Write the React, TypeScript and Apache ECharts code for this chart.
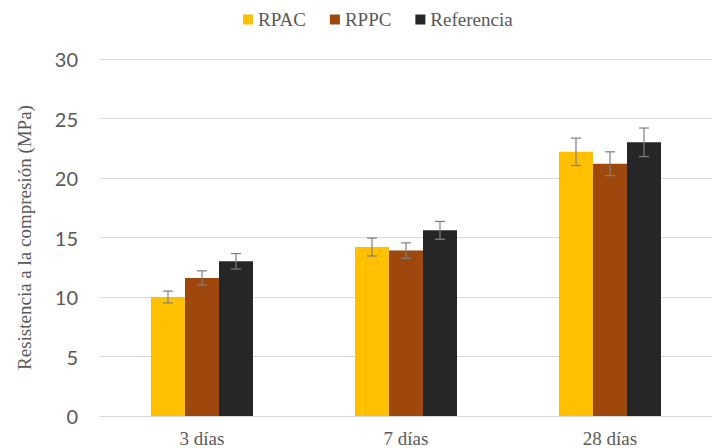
import React, { useEffect, useRef } from "react";
import * as echarts from "echarts";

// Compressive strength by curing age, with standard-deviation error bars
const categories = ["3 días", "7 días", "28 días"];
const seriesNames = ["RPAC", "RPPC", "Referencia"];
const rpac = [10.0, 14.2, 22.2];
const rppc = [11.6, 13.9, 21.2];
const referencia = [13.0, 15.6, 23.0];
const rpacErr = [0.5, 0.75, 1.15];
const rppcErr = [0.6, 0.65, 1.0];
const referenciaErr = [0.65, 0.75, 1.2];
const yMin = 0;
const yMax = 30;
const yStep = 5;

const colors = ["#FFC000", "#9E480E", "#262626"];
const serif = "Liberation Serif";
const sans = "Lato";
const textGray = "#595959";
const gridGray = "#D9D9D9";
const errGray = "#7F7F7F";
const BAR_GAP_RATIO = 0.5;

function errorSeries(name: string, values: number[], errs: number[], slot: number) {
  return {
    type: "custom",
    name: name + " error",
    z: 10,
    silent: true,
    data: values.map((v, i) => [i, v - errs[i], v + errs[i]]),
    renderItem: (params: any, api: any) => {
      const idx = api.value(0);
      const lo = api.coord([idx, api.value(1)]);
      const hi = api.coord([idx, api.value(2)]);
      const band = api.size([1, 0])[0];
      const barW = (band * (1 - BAR_GAP_RATIO)) / 3;
      const cx = lo[0] + (slot - 1) * barW;
      const cap = 5;
      const style = { stroke: errGray, lineWidth: 1.2, fill: "none" };
      return {
        type: "group",
        children: [
          { type: "line", shape: { x1: cx, y1: lo[1], x2: cx, y2: hi[1] }, style },
          { type: "line", shape: { x1: cx - cap, y1: hi[1], x2: cx + cap, y2: hi[1] }, style },
          { type: "line", shape: { x1: cx - cap, y1: lo[1], x2: cx + cap, y2: lo[1] }, style },
        ],
      };
    },
  };
}

export default function App() {
  const ref = useRef<HTMLDivElement>(null);

  useEffect(() => {
    if (!ref.current) return;
    const chart = echarts.init(ref.current, undefined, { renderer: "svg" });
    const barValues = [rpac, rppc, referencia];
    const errValues = [rpacErr, rppcErr, referenciaErr];
    const legendText = { fontFamily: serif, fontSize: 19, color: textGray };

    chart.setOption({
      animation: false,
      backgroundColor: "#FFFFFF",
      color: colors,
      textStyle: { fontFamily: serif },
      legend: {
        data: seriesNames.map((name) => ({ name, textStyle: legendText })),
        left: 243,
        top: 10,
        padding: 0,
        icon: "rect",
        itemWidth: 10,
        itemHeight: 10,
        itemGap: 24,
        textStyle: legendText,
      },
      grid: { left: 100, right: -11, top: 59, bottom: 32, containLabel: false },
      xAxis: {
        type: "category",
        data: categories,
        axisTick: { show: false },
        axisLine: { lineStyle: { color: gridGray, width: 1 } },
        axisLabel: { fontFamily: serif, fontSize: 19, color: textGray, margin: 13 },
      },
      yAxis: {
        type: "value",
        min: yMin,
        max: yMax,
        interval: yStep,
        name: "Resistencia a la compresión (MPa)",
        nameLocation: "middle",
        nameGap: 66,
        nameTextStyle: { fontFamily: serif, fontSize: 19, color: textGray },
        axisLine: { show: false },
        axisTick: { show: false },
        axisLabel: { fontFamily: sans, fontSize: 20, color: textGray, margin: 22 },
        splitLine: { lineStyle: { color: gridGray, width: 1 } },
      },
      series: [
        ...seriesNames.map((name, k) => ({
          type: "bar",
          name,
          data: barValues[k],
          barGap: "0%",
          barCategoryGap: BAR_GAP_RATIO * 100 + "%",
          itemStyle: { color: colors[k] },
        })),
        ...seriesNames.map((name, k) => errorSeries(name, barValues[k], errValues[k], k)),
      ],
    });

    return () => chart.dispose();
  }, []);

  return (
    <div
      ref={ref}
      style={{ position: "fixed", left: 0, top: 0, width: 712, height: 448, background: "#fff" }}
    />
  );
}
